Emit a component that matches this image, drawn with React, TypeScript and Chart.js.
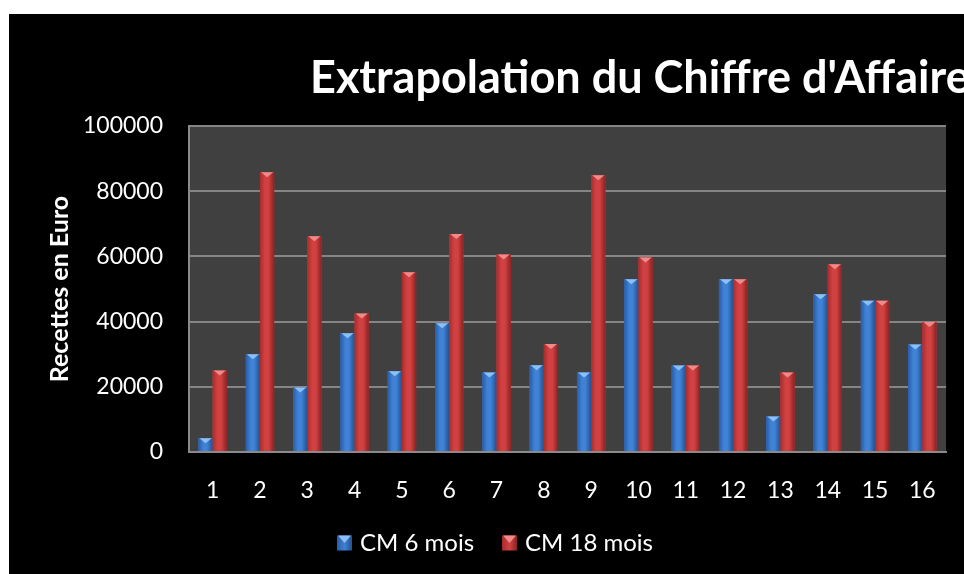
import React, { useEffect, useRef } from "react";
import { Chart, registerables } from "chart.js";

Chart.register(...registerables);

const categories = ["1", "2", "3", "4", "5", "6", "7", "8", "9", "10", "11", "12", "13", "14", "15", "16"];
const cm6 = [4200, 30000, 19800, 36400, 24800, 39500, 24400, 26600, 24400, 53000, 26500, 53000, 10900, 48400, 46400, 33000];
const cm18 = [25000, 85800, 66200, 42500, 55100, 66900, 60600, 33100, 84900, 59700, 26500, 53000, 24400, 57600, 46400, 39900];
const seriesNames = ["CM 6 mois", "CM 18 mois"];
const titleText = "Extrapolation du Chiffre d'Affaire";
const yTitle = "Recettes en Euro";

const palettes = [
  { edgeL: "#2a5ca8", mid: "#3f82d6", edgeR: "#24508f", cap: "#8cc0f5" },
  { edgeL: "#a82c2c", mid: "#d24141", edgeR: "#8a2222", cap: "#f08a8a" },
];

const FONT = "Lato, 'Open Sans', sans-serif";

const deco = {
  id: "deco",
  beforeDraw(chart: any) {
    const { ctx, chartArea } = chart;
    ctx.save();
    ctx.fillStyle = "#000";
    ctx.fillRect(0, 0, chart.width, chart.height);
    ctx.fillStyle = "#404040";
    ctx.fillRect(chartArea.left, chartArea.top, chartArea.right - chartArea.left, chartArea.bottom - chartArea.top);
    ctx.restore();
  },
  afterDatasetsDraw(chart: any) {
    const { ctx } = chart;
    ctx.save();
    chart.data.datasets.forEach((ds: any, di: number) => {
      const meta = chart.getDatasetMeta(di);
      const p = palettes[di];
      meta.data.forEach((bar: any) => {
        const w = bar.width;
        const x0 = bar.x - w / 2;
        const top = bar.y;
        const base = bar.base;
        const g = ctx.createLinearGradient(x0, 0, x0 + w, 0);
        g.addColorStop(0, p.edgeL);
        g.addColorStop(0.35, p.mid);
        g.addColorStop(0.6, p.mid);
        g.addColorStop(1, p.edgeR);
        ctx.fillStyle = g;
        ctx.fillRect(x0, top, w, base - top);
        const capH = Math.min(5, (base - top) / 2);
        ctx.fillStyle = p.cap;
        ctx.beginPath();
        ctx.moveTo(x0 + 1, top);
        ctx.lineTo(x0 + w - 1, top);
        ctx.lineTo(bar.x, top + capH);
        ctx.closePath();
        ctx.fill();
      });
    });
    ctx.restore();
  },
  afterDraw(chart: any) {
    const { ctx } = chart;
    ctx.save();
    ctx.fillStyle = "#fff";
    ctx.font = `bold 45px ${FONT}`;
    ctx.textBaseline = "alphabetic";
    ctx.textAlign = "left";
    ctx.fillText(titleText, 301, 79);

    // legend
    ctx.font = `24px ${FONT}`;
    ctx.textBaseline = "middle";
    const box = 15, gap = 8, itemGap = 28;
    const widths = seriesNames.map((n) => ctx.measureText(n).width);
    const total = widths.reduce((a, b) => a + b, 0) + seriesNames.length * (box + gap) + itemGap * (seriesNames.length - 1);
    let x = 486 - total / 2;
    const cy = 529;
    seriesNames.forEach((n, i) => {
      const p = palettes[i];
      const g = ctx.createLinearGradient(x, 0, x + box, 0);
      g.addColorStop(0, p.edgeL);
      g.addColorStop(0.5, p.mid);
      g.addColorStop(1, p.edgeR);
      ctx.fillStyle = g;
      ctx.fillRect(x, cy - box / 2, box, box);
      ctx.fillStyle = p.cap;
      ctx.beginPath();
      ctx.moveTo(x + 1, cy - box / 2);
      ctx.lineTo(x + box - 1, cy - box / 2);
      ctx.lineTo(x + box / 2, cy);
      ctx.closePath();
      ctx.fill();
      ctx.fillStyle = "#fff";
      ctx.fillText(n, x + box + gap, cy);
      x += box + gap + widths[i] + itemGap;
    });
    ctx.restore();
  },
};

export default function App() {
  const ref = useRef<HTMLCanvasElement | null>(null);
  useEffect(() => {
    if (!ref.current) return;
    const chart = new Chart(ref.current, {
      type: "bar",
      data: {
        labels: categories,
        datasets: [
          { label: seriesNames[0], data: cm6, backgroundColor: palettes[0].mid },
          { label: seriesNames[1], data: cm18, backgroundColor: palettes[1].mid },
        ],
      },
      options: {
        responsive: false,
        animation: false,
        devicePixelRatio: 1,
        layout: { padding: { top: 112, right: 18, bottom: 0, left: 0 } },
        datasets: { bar: { categoryPercentage: 0.6, barPercentage: 1.0 } },
        plugins: {
          legend: { display: false },
          title: { display: false },
          tooltip: { enabled: false },
        },
        scales: {
          x: {
            grid: { display: false, drawTicks: false },
            border: { display: true, color: "#8a8a8a", width: 2 },
            ticks: { color: "#fff", font: { family: FONT, size: 23 }, padding: 25, maxRotation: 0 },
            afterFit: (s: any) => { s.height = 122; },
          },
          y: {
            min: 0,
            max: 100000,
            ticks: { stepSize: 20000, color: "#fff", font: { family: FONT, size: 23 }, padding: 26, callback: (v: any) => String(v) },
            grid: { color: "#858585", lineWidth: 2, drawTicks: false },
            border: { display: true, color: "#8a8a8a", width: 2 },
            title: { display: true, text: yTitle, color: "#fff", font: { family: FONT, size: 25, weight: "bold" }, padding: { top: 36, bottom: 0 } },
            afterFit: (s: any) => { s.width = 180; },
          },
        },
      },
      plugins: [deco],
    });
    return () => chart.destroy();
  }, []);
  return (
    <div style={{ position: "absolute", left: 9, top: 14, width: 955, height: 560, background: "#000", overflow: "hidden" }}>
      <canvas ref={ref} width={955} height={560} style={{ display: "block" }} />
    </div>
  );
}
